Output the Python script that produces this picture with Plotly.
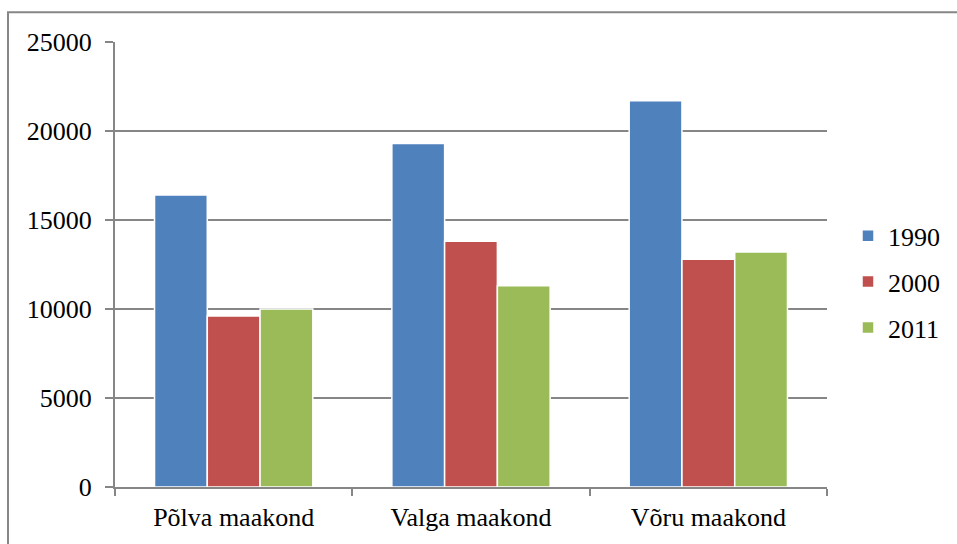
import plotly.graph_objects as go

categories = ["Põlva maakond", "Valga maakond", "Võru maakond"]
series_names = ["1990", "2000", "2011"]
values_1990 = [16400, 19300, 21700]
values_2000 = [9600, 13800, 12800]
values_2011 = [10000, 11300, 13200]
colors = ["#4F81BD", "#C0504D", "#9BBB59"]
y_ticks = [0, 5000, 10000, 15000, 20000, 25000]

FONT = '"Liberation Serif", "Times New Roman", serif'

fig = go.Figure()
for name, vals, col in zip(series_names, [values_1990, values_2000, values_2011], colors):
    fig.add_trace(go.Bar(
        x=categories, y=vals, name=name, legendgroup=name,
        marker=dict(color=col, line=dict(color="white", width=1.5)),
    ))

W, H = 957, 544
L, R, T, B = 115, 130, 42, 55
pw, ph = W - L - R, H - T - B

def px_x(p):
    return (p - L) / pw

def px_y(p):
    return (H - B - p) / ph

fig.update_layout(
    width=W, height=H,
    margin=dict(l=L, r=R, t=T, b=B, pad=0),
    paper_bgcolor="white", plot_bgcolor="white",
    barmode="group", bargap=0.333, bargroupgap=0.0,
    font=dict(family=FONT, size=26, color="black"),
    showlegend=True,
    legend=dict(
        x=px_x(848), xanchor="left",
        y=px_y(283), yanchor="middle",
        font=dict(family=FONT, size=26, color="black"),
        tracegroupgap=9, traceorder="grouped",
        bgcolor="rgba(0,0,0,0)",
    ),
    xaxis=dict(
        showline=True, linecolor="#868686", linewidth=2,
        ticks="outside", ticklen=7, tickcolor="#868686", tickwidth=2,
        tickson="boundaries", showgrid=False,
        tickfont=dict(family=FONT, size=26, color="black"),
        ticklabelstandoff=6,
    ),
    yaxis=dict(
        range=[0, 25000], tickvals=y_ticks, ticktext=[str(v) for v in y_ticks],
        showline=True, linecolor="#868686", linewidth=2,
        ticks="outside", ticklen=8, tickcolor="#868686", tickwidth=2,
        showgrid=True, gridcolor="#868686", gridwidth=2,
        zeroline=False,
        tickfont=dict(family=FONT, size=26, color="black"),
        ticklabelstandoff=8,
    ),
    shapes=[dict(
        type="rect", xref="paper", yref="paper",
        x0=px_x(8), x1=px_x(1100), y0=px_y(700), y1=px_y(12),
        line=dict(color="#868686", width=2), fillcolor="rgba(0,0,0,0)",
        layer="below",
    )],
)

fig.write_html(
    "out.html",
    config={"displayModeBar": False},
    post_script="document.body.style.margin='0';document.body.style.padding='0';",
)
